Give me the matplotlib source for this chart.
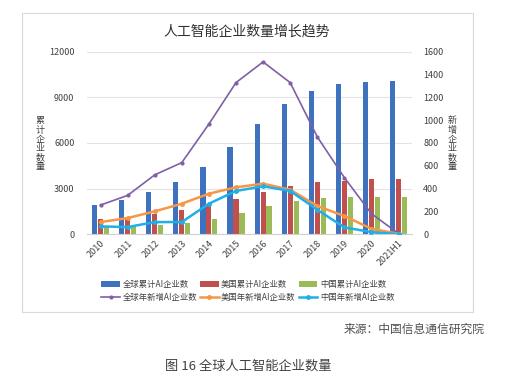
import numpy as np
import matplotlib.pyplot as plt
from matplotlib.patches import Rectangle

plt.rcParams['font.family'] = ['Noto Sans CJK SC', 'DejaVu Sans']

# data
years = ['2010', '2011', '2012', '2013', '2014', '2015', '2016',
         '2017', '2018', '2019', '2020', '2021H1']
global_total = [1950, 2270, 2780, 3440, 4430, 5750, 7250, 8600, 9450, 9900, 10040, 10080]
us_total = [980, 1090, 1310, 1580, 1900, 2320, 2780, 3180, 3400, 3530, 3600, 3600]
cn_total = [480, 520, 610, 740, 1000, 1380, 1820, 2160, 2380, 2440, 2460, 2460]
global_new = [255, 340, 520, 628, 966, 1330, 1512, 1330, 854, 496, 179, 5]
us_new = [106, 141, 200, 267, 355, 411, 443, 390, 247, 159, 47, 3]
cn_new = [68, 62, 106, 106, 267, 379, 420, 379, 214, 59, 18, 0]

bar_names = ['全球累计AI企业数', '美国累计AI企业数', '中国累计AI企业数']
line_names = ['全球年新增AI企业数', '美国年新增AI企业数', '中国年新增AI企业数']
left_label = '累计企业数量'
right_label = '新增企业数量'

fig = plt.figure(figsize=(5.27, 3.87), dpi=100)
fig.patches.append(Rectangle((22/527, 1-312/387), 451/527, 299/387,
                             transform=fig.transFigure, fill=False,
                             edgecolor='#d9d9d9', linewidth=0.8))

ax = fig.add_axes([0.165, 0.395, 0.617, 0.471])
ax2 = ax.twinx()
x = np.arange(len(years))

w = 0.19
b1 = ax.bar(x - 0.22, global_total, w, color='#3e72be')
b2 = ax.bar(x, us_total, w, color='#c0504d')
b3 = ax.bar(x + 0.22, cn_total, w, color='#9bbb59')

l1, = ax2.plot(x, global_new, color='#7f5fa5', lw=1.2, marker='o', ms=2)
l2, = ax2.plot(x, us_new, color='#f79646', lw=1.8, marker='o', ms=2.5)
l3, = ax2.plot(x, cn_new, color='#1eb0e6', lw=1.8, marker='o', ms=2.5)

ax.set_xlim(-0.5, len(years) - 0.5)
ax.set_ylim(0, 12000)
ax.set_yticks(np.arange(0, 12001, 3000))
ax2.set_ylim(0, 1600)
ax2.set_yticks(np.arange(0, 1601, 200))
ax.set_xticks(x)
ax.set_xticklabels(years, rotation=45, ha='right', rotation_mode='anchor')

ax.yaxis.grid(True, color='#e3e3e3', lw=0.8)
ax.set_axisbelow(True)
for a in (ax, ax2):
    for s in ['top', 'left', 'right']:
        a.spines[s].set_visible(False)
    a.spines['bottom'].set_color('#d0d0d0')
    a.tick_params(length=0, labelsize=6.5, colors='#404040')
ax.tick_params(axis='y', pad=9)
ax2.tick_params(axis='y', pad=8)
ax2.spines['bottom'].set_visible(False)

# stacked vertical axis titles, one character per line
for xc, label in [(40, left_label), (452, right_label)]:
    for i, ch in enumerate(label):
        fig.text(xc/527, 1-(121 + i*9.2)/387, ch, fontsize=6.5, color='#404040',
                 ha='center', va='center')

fig.text(247/527, 1-32/387, '人工智能企业数量增长趋势', fontsize=10, color='#303030',
         ha='center', va='center')

# row-wise order for a 3-column legend
handles = [b1, l1, b2, l2, b3, l3]
labels = [bar_names[0], line_names[0], bar_names[1], line_names[1], bar_names[2], line_names[2]]
fig.legend(handles, labels, ncol=3,
           loc='center', bbox_to_anchor=(248/527, 1-291/387), frameon=False,
           fontsize=6, handlelength=2.2, handletextpad=0.3, columnspacing=0.4,
           labelspacing=0.5, labelcolor='#404040')

fig.text(485/527, 1-329/387, '来源：中国信息通信研究院', fontsize=8.5, color='#505050',
         ha='right', va='center')
fig.text(248/527, 1-366/387, '图 16 全球人工智能企业数量', fontsize=9.5, color='#404040',
         ha='center', va='center')

fig.savefig('out.png', dpi=100)
